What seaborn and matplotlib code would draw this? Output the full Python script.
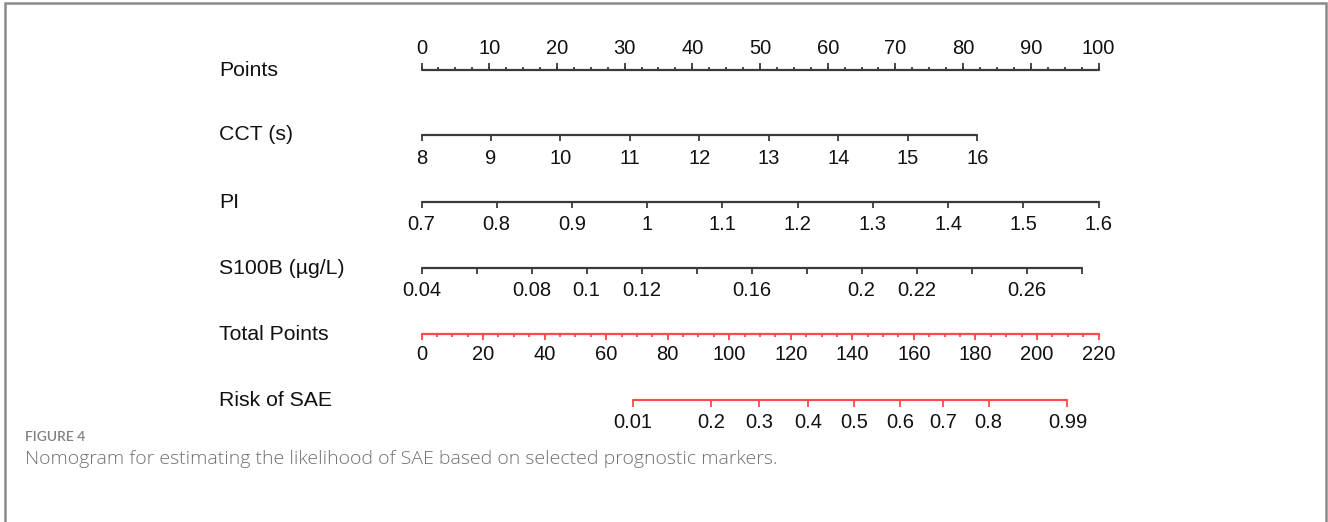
import numpy as np
import pandas as pd
import matplotlib
matplotlib.use("Agg")
import matplotlib.pyplot as plt
import seaborn as sns

# ---- nomogram scales -------------------------------------------------------
points_ticks = np.arange(0, 101, 10)
points_minor = np.arange(0, 100.1, 2.5)

cct_ticks = [8, 9, 10, 11, 12, 13, 14, 15, 16]
cct_points = (0.0, 82.1)          # points at CCT = 8 and CCT = 16

pi_ticks = [0.7, 0.8, 0.9, 1.0, 1.1, 1.2, 1.3, 1.4, 1.5, 1.6]
pi_labels = ["0.7", "0.8", "0.9", "1", "1.1", "1.2", "1.3", "1.4", "1.5", "1.6"]
pi_points = (0.0, 100.0)

s100b_ticks = [0.04, 0.06, 0.08, 0.10, 0.12, 0.14, 0.16, 0.18, 0.20, 0.22, 0.24, 0.26, 0.28]
s100b_labeled = [0.04, 0.08, 0.10, 0.12, 0.16, 0.20, 0.22, 0.26]
s100b_labels = ["0.04", "0.08", "0.1", "0.12", "0.16", "0.2", "0.22", "0.26"]
s100b_points = (0.0, 97.5)

total_ticks = np.arange(0, 221, 20)
total_minor = np.arange(0, 221, 5)
total_max = 220

risk_labels = ["0.01", "0.2", "0.3", "0.4", "0.5", "0.6", "0.7", "0.8", "0.99"]
risk_total_points = [68.8, 94.0, 109.8, 125.6, 140.5, 155.5, 169.6, 184.3, 209.9]

row_names = ["Points", "CCT (s)", "PI", "S100B (\u00b5g/L)", "Total Points", "Risk of SAE"]

# ---- figure ----------------------------------------------------------------
sns.set_theme(style="white")
plt.rcParams["font.family"] = ["Liberation Sans", "DejaVu Sans"]

W, H = 1328, 522
fig = plt.figure(figsize=(W / 100, H / 100), dpi=100)
fig.patch.set_facecolor("white")

# pixel-space layer for frame, row names and caption
bg = fig.add_axes([0, 0, 1, 1])
bg.set_xlim(0, W)
bg.set_ylim(H, 0)
bg.axis("off")

# points-space layer for the scales
X0, PX = 421.5, 6.77
ax = fig.add_axes([0, 0, 1, 1])
ax.set_xlim(-X0 / PX, (W - X0) / PX)
ax.set_ylim(H, 0)
ax.axis("off")
ax.patch.set_alpha(0)

BLACK = "#3a3a3a"
RED = "#ff4a4a"
TXT = "#111111"
TICK_FS = 14.5
LABEL_FS = 15.3

rows_y = [70, 135, 202, 268, 334, 400]


def lin(vals, vrange, prange):
    v0, v1 = vrange
    p0, p1 = prange
    return [p0 + (v - v0) * (p1 - p0) / (v1 - v0) for v in vals]


def baseline(x0, x1, y, color):
    df = pd.DataFrame({"x": [x0, x1], "y": [y, y]})
    sns.lineplot(data=df, x="x", y="y", ax=ax, color=color, linewidth=1.6,
                 legend=False, estimator=None, sort=False)


def ticks(xs, y, length, color, up=False):
    y1 = y - length if up else y + length
    ax.vlines(xs, y, y1, colors=color, linewidth=1.3)


def labels(xs, texts, y):
    for x, t in zip(xs, texts):
        ax.text(x, y, t, ha="center", va="center", fontsize=TICK_FS, color=TXT)


# Points
y = rows_y[0]
baseline(0, 100, y, BLACK)
ticks(points_minor, y, 3, BLACK, up=True)
ticks(points_ticks, y, 7, BLACK, up=True)
labels(points_ticks, [str(v) for v in points_ticks], y - 22)

# CCT
y = rows_y[1]
xs = lin(cct_ticks, (cct_ticks[0], cct_ticks[-1]), cct_points)
baseline(xs[0], xs[-1], y, BLACK)
ticks(xs, y, 6, BLACK)
labels(xs, [str(v) for v in cct_ticks], y + 23)

# PI
y = rows_y[2]
xs = lin(pi_ticks, (pi_ticks[0], pi_ticks[-1]), pi_points)
baseline(xs[0], xs[-1], y, BLACK)
ticks(xs, y, 6, BLACK)
labels(xs, pi_labels, y + 22)

# S100B
y = rows_y[3]
xs = lin(s100b_ticks, (s100b_ticks[0], s100b_ticks[-1]), s100b_points)
baseline(xs[0], xs[-1], y, BLACK)
ticks(xs, y, 6, BLACK)
xl = lin(s100b_labeled, (s100b_ticks[0], s100b_ticks[-1]), s100b_points)
labels(xl, s100b_labels, y + 22)

# Total Points
y = rows_y[4]
scale = 100 / total_max
baseline(0, 100, y, RED)
ticks(total_minor * scale, y, 3, RED)
ticks(total_ticks * scale, y, 6, RED)
labels(total_ticks * scale, [str(v) for v in total_ticks], y + 21)

# Risk
y = rows_y[5]
xs = [p * scale for p in risk_total_points]
baseline(xs[0], xs[-1], y, RED)
ticks(xs, y, 7, RED)
labels(xs, risk_labels, y + 22)

# row names
for name, ry in zip(row_names, rows_y):
    bg.text(219, ry, name, ha="left", va="center", fontsize=LABEL_FS, color=TXT)

# frame (open at the bottom)
bg.plot([5, 5, 1326, 1326], [H + 5, 3, 3, H + 5], color="#8a8a8a", linewidth=1.8,
        solid_joinstyle="miter")

# caption
bg.text(25, 437, "FIGURE 4", ha="left", va="center", fontsize=10,
        color="#808080", family=["Lato", "DejaVu Sans"], fontweight="semibold")
bg.text(25, 459, "Nomogram for estimating the likelihood of SAE based on selected prognostic markers.",
        ha="left", va="center", fontsize=14.0, color="#707070",
        family=["Open Sans", "DejaVu Sans"], fontweight="light")

fig.savefig("out.png", dpi=100, facecolor="white")
